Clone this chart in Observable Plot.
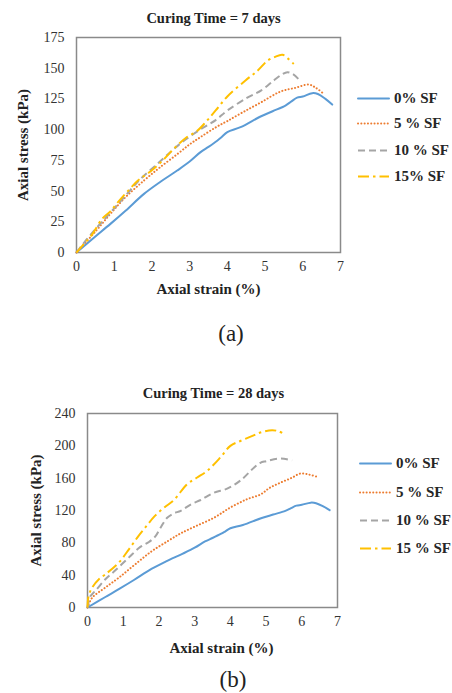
<!DOCTYPE html>
<html><head><meta charset="utf-8">
<script src="https://cdn.jsdelivr.net/npm/d3@7"></script>
<script src="https://cdn.jsdelivr.net/npm/@observablehq/plot@0.6"></script>
<style>
body{margin:0;background:#fff;}
#wrap{position:relative;width:452px;height:693px;overflow:hidden;font-family:"Liberation Serif","Times New Roman",serif;background:#fff;}
#wrap svg, #wrap svg text{font-family:"Liberation Serif","Times New Roman",serif !important;}
.plot{position:absolute;left:0;}
.legend{position:absolute;font-weight:bold;font-size:15px;color:#262626;}
.legend .row{position:absolute;left:0;display:flex;align-items:center;white-space:nowrap;transform:translateY(-50%);}
.legend .row span{margin-left:4px;}
.cap{position:absolute;font-size:23px;color:#222;transform:translate(-50%,-50%);white-space:nowrap;}
</style></head><body><div id="wrap"></div>
<script>
// ---------- Data: Curing Time = 7 days ----------
const strain7_0 = [0, 0.5, 0.9, 1.3, 1.79, 2.2, 2.67, 3.0, 3.29, 3.5, 3.73, 3.85, 4.0, 4.35, 4.88, 5.2, 5.54, 5.7, 5.85, 6.0, 6.25, 6.4, 6.6, 6.78];
const stress7_0 = [0, 13, 23.3, 34, 47.7, 57, 66.7, 74, 81.7, 86, 91, 94, 98, 102, 110.7, 115, 119.6, 123, 126, 127, 129.7, 129, 125, 120.4];
const strain7_5 = [0, 0.5, 0.9, 1.3, 1.79, 2.2, 2.67, 3.0, 3.29, 3.7, 4.0, 4.4, 4.88, 5.41, 5.8, 6.16, 6.35, 6.56];
const stress7_5 = [0, 17, 31.5, 45, 58.6, 69, 80, 88, 94, 102, 107, 114, 122, 131, 134, 136.7, 134, 129];
const strain7_10 = [0, 0.28, 0.55, 0.81, 1.34, 1.7, 2.14, 2.5, 2.85, 3.38, 3.7, 4.0, 4.53, 4.9, 5.23, 5.45, 5.59, 5.75, 5.95];
const stress7_10 = [0, 11, 20.6, 29.5, 47.7, 60, 72, 82, 91, 102, 108, 115.6, 126, 132, 140, 145, 146.8, 145, 139];
const strain7_15 = [0, 0.2, 0.42, 0.68, 0.9, 1.1, 1.39, 1.63, 1.96, 2.27, 2.6, 2.93, 3.2, 3.45, 3.69, 4.0, 4.48, 4.8, 5.06, 5.25, 5.46, 5.6, 5.76];
const stress7_15 = [0, 7, 15, 27.4, 33.5, 41, 51, 58.6, 66, 74.5, 85, 94, 99, 107, 115.6, 127, 140, 148, 156, 159, 161, 158, 153.5];
const labels7 = ["0% SF", "5 % SF", "10 % SF", "15% SF"];

// ---------- Data: Curing Time = 28 days ----------
const strain28_0 = [0, 0.5, 0.9, 1.3, 1.79, 2.2, 2.67, 3.0, 3.29, 3.5, 3.73, 3.85, 4.0, 4.35, 4.88, 5.2, 5.54, 5.7, 5.85, 6.0, 6.25, 6.4, 6.6, 6.78];
const stress28_0 = [0, 13, 23.3, 34, 47.7, 57, 66.7, 74, 81.7, 86, 91, 94, 98, 102, 110.7, 115, 119.6, 123, 126, 127, 129.7, 129, 125, 120.4];
const strain28_5 = [0, 0.13, 0.5, 0.88, 1.34, 1.81, 2.28, 2.6, 3.0, 3.54, 4.0, 4.47, 4.85, 5.1, 5.41, 5.7, 5.97, 6.2, 6.43];
const stress28_5 = [0, 12, 24.7, 37, 53.6, 70, 83, 91.5, 100, 111, 123.7, 134, 140, 148, 154.6, 160, 165.8, 164.5, 161.6];
const strain28_10 = [0, 0.08, 0.22, 0.5, 0.78, 1.16, 1.48, 1.72, 1.9, 2.05, 2.23, 2.42, 2.61, 2.91, 3.17, 3.54, 3.91, 4.28, 4.66, 4.84, 5.0, 5.31, 5.5, 5.73];
const stress28_10 = [0, 14, 20.6, 35, 46, 62, 75, 81, 88, 99, 111, 116.5, 119.6, 128, 133, 142, 147, 157, 173, 179, 181, 184, 184, 182];
const strain28_15 = [0, 0.03, 0.13, 0.32, 0.5, 0.88, 1.16, 1.41, 1.62, 1.88, 2.16, 2.42, 2.79, 3.07, 3.35, 3.72, 4.0, 4.28, 4.6, 4.84, 5.17, 5.35, 5.49];
const stress28_15 = [0, 14, 24.7, 35, 41, 55.7, 72, 87.4, 99, 113, 124, 133, 152.6, 160.8, 169, 185.6, 200, 206, 212, 216.5, 219.4, 218, 215];
const labels28 = ["0% SF", "5 % SF", "10 % SF", "15 % SF"];

// ---------- Ticks & text ----------
const xTicks = [0, 1, 2, 3, 4, 5, 6, 7];
const yTicks7 = [0, 25, 50, 75, 100, 125, 150, 175];
const yTicks28 = [0, 40, 80, 120, 160, 200, 240];
const title7 = "Curing Time = 7 days";
const title28 = "Curing Time = 28 days";
const xLabel = "Axial strain (%)";
const yLabel = "Axial stress (kPa)";

// ---------- Styles ----------
const styles = [
  {stroke: "#5B9BD5", strokeWidth: 2, strokeDasharray: null, strokeLinecap: "round"},
  {stroke: "#ED7D31", strokeWidth: 2, strokeDasharray: "0.1 3.2", strokeLinecap: "round"},
  {stroke: "#A5A5A5", strokeWidth: 2, strokeDasharray: "7 4", strokeLinecap: "butt"},
  {stroke: "#FFC000", strokeWidth: 2, strokeDasharray: "11 4 2.5 4", strokeLinecap: "butt"}
];

const FONT = "'Liberation Serif','Times New Roman',serif";
const toRows = (xs, ys) => xs.map((x, i) => ({x, y: ys[i]}));
const wrap = document.getElementById("wrap");

function makeChart(cfg) {
  const txt = {fontWeight: "bold", fontSize: 15, fill: "#222"};
  const marks = [
    Plot.frame({stroke: "#8a8a8a", strokeWidth: 1.5}),
    Plot.axisX({ticks: xTicks, tickFormat: d => String(d), tickSize: 0, tickPadding: 9, label: null, fontSize: 14}),
    Plot.axisY({ticks: cfg.yTicks, tickFormat: d => String(d), tickSize: 0, tickPadding: cfg.yPad, label: null, fontSize: 14}),
    ...cfg.series.map((s, i) => Plot.line(toRows(s[0], s[1]), {x: "x", y: "y", curve: "catmull-rom", ...Object.fromEntries(Object.entries(styles[i]).filter(([k, v]) => v != null))})),
    Plot.text([cfg.title], {text: d => d, frameAnchor: "top", lineAnchor: "middle", dy: cfg.titleDy, dx: cfg.titleDx, ...txt, fontSize: 14.5}),
    Plot.text([xLabel], {text: d => d, frameAnchor: "bottom", lineAnchor: "middle", dy: cfg.xLabDy, dx: cfg.xLabDx, ...txt}),
    Plot.text([yLabel], {text: d => d, frameAnchor: "left", textAnchor: "middle", lineAnchor: "middle", rotate: -90, dx: cfg.yLabDx, ...txt})
  ];
  const svg = Plot.plot({
    width: 452, height: cfg.height,
    marginTop: cfg.mt, marginBottom: cfg.mb, marginLeft: cfg.ml, marginRight: cfg.mr,
    x: {domain: [0, 7]},
    y: {domain: cfg.yDomain},
    style: {fontFamily: FONT, fontSize: "14px", color: "#333", background: "transparent", overflow: "visible"},
    marks
  });
  svg.classList.add("plot");
  svg.style.top = cfg.top + "px";
  svg.style.fontFamily = FONT;
  wrap.appendChild(svg);

  const lg = document.createElement("div");
  lg.className = "legend";
  lg.style.left = cfg.legendLeft + "px";
  lg.style.top = "0px";
  cfg.labels.forEach((lab, i) => {
    const row = document.createElement("div");
    row.className = "row";
    row.style.top = cfg.legendRows[i] + "px";
    const st = styles[i];
    row.innerHTML = `<svg width="33" height="8"><line x1="1" y1="4" x2="32" y2="4" stroke="${st.stroke}" stroke-width="2" ${st.strokeDasharray ? `stroke-dasharray="${st.strokeDasharray}"` : ""} stroke-linecap="${st.strokeLinecap}"/></svg><span>${lab}</span>`;
    lg.appendChild(row);
  });
  wrap.appendChild(lg);

  const cap = document.createElement("div");
  cap.className = "cap";
  cap.textContent = cfg.caption;
  cap.style.left = cfg.capX + "px";
  cap.style.top = cfg.capY + "px";
  wrap.appendChild(cap);
}

makeChart({
  top: 0, height: 310, mt: 37, mb: 58, ml: 76, mr: 112,
  yDomain: [0, 175], yTicks: yTicks7, yPad: 12,
  series: [[strain7_0, stress7_0], [strain7_5, stress7_5], [strain7_10, stress7_10], [strain7_15, stress7_15]],
  title: title7, titleDy: -19, titleDx: 5, xLabDy: 37, xLabDx: 0, yLabDx: -53,
  labels: labels7, legendLeft: 357, legendRows: [98, 123, 150, 176],
  caption: "(a)", capX: 231, capY: 334
});

makeChart({
  top: 360, height: 300, mt: 53, mb: 53, ml: 87, mr: 115,
  yDomain: [0, 240], yTicks: yTicks28, yPad: 12,
  series: [[strain28_0, stress28_0], [strain28_5, stress28_5], [strain28_10, stress28_10], [strain28_15, stress28_15]],
  title: title28, titleDy: -20, titleDx: 1, xLabDy: 41, xLabDx: 9, yLabDx: -51,
  labels: labels28, legendLeft: 359, legendRows: [463, 492, 520, 548],
  caption: "(b)", capX: 233, capY: 680
});
</script></body></html>
